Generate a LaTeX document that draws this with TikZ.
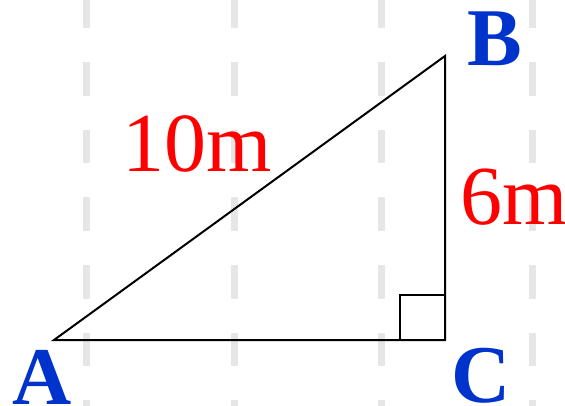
\documentclass[tikz,border=0pt]{standalone}
\usepackage{fontspec}
\setmainfont{Liberation Serif}
\usetikzlibrary{positioning,calc}
\definecolor{guidegray}{HTML}{E6E6E6}
\definecolor{sidered}{HTML}{FF0000}
\definecolor{vertblue}{HTML}{0033CC}
\tikzset{
  guide/.style={draw=guidegray, line width=7pt, dash pattern=on 33.5pt off 34pt},
  side/.style={draw=black, line width=2pt, line join=miter},
  lenlabel/.style={font=\fontsize{84}{84}\selectfont, text=sidered, inner sep=0pt, anchor=base},
  vertlabel/.style={font=\fontsize{82}{82}\selectfont\bfseries, text=vertblue, inner sep=0pt, anchor=base},
}
\begin{document}
\begin{tikzpicture}[x=1pt,y=-1pt]
  \useasboundingbox (0,0) rectangle (565,406);
  % background guides
  \foreach \gx in {86,234,381,532} {
    \coordinate (gtop\gx) at (\gx,-5);
    \coordinate (gbot\gx) at (\gx,412);
    \draw[guide] (gtop\gx) -- (gbot\gx);
  }
  % the triangle
  \coordinate (A) at (54,340);
  \coordinate (B) at (445,56);
  \coordinate (C) at (445,340);
  \coordinate (sqa) at (400,340);
  \coordinate (sqb) at (400,295);
  \coordinate (sqc) at (445,295);
  \draw[side] (A) -- (B) -- (C) -- cycle;
  \draw[side] (sqa) -- (sqb) -- (sqc);
  % labels
  \node[lenlabel] (hyp) at (197,172) {10m};
  \node[lenlabel, anchor=base west] (leg) at (460,225) {6m};
  \node[vertlabel] (labA) at (42,404) {A};
  \node[vertlabel] (labB) at (495,66) {B};
  \node[vertlabel] (labC) at (481,402) {C};
\end{tikzpicture}
\end{document}
